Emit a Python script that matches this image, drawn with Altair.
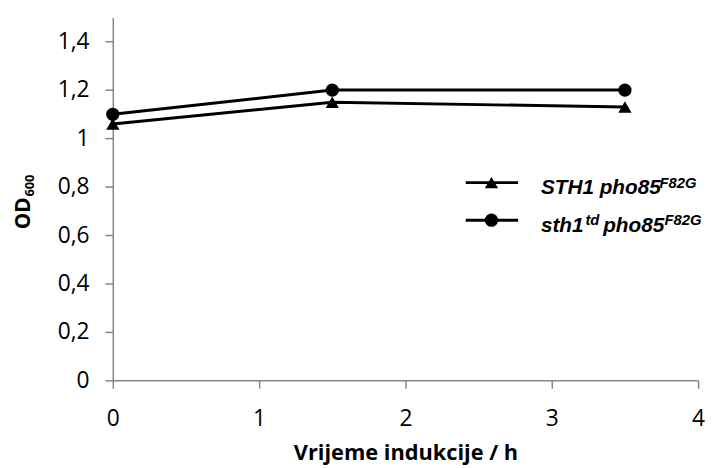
import altair as alt
import pandas as pd

time_h = [0, 1.5, 3.5]
sth1_wt = [1.06, 1.15, 1.13]
sth1_td = [1.10, 1.20, 1.20]
series_names = ["STH1 pho85F82G", "sth1td pho85F82G"]
y_ticks = [0, 0.2, 0.4, 0.6, 0.8, 1.0, 1.2, 1.4]
x_ticks = [0, 1, 2, 3, 4]

rows = []
for t, a, b in zip(time_h, sth1_wt, sth1_td):
    rows.append({"t": t, "od": a, "s": series_names[0]})
    rows.append({"t": t, "od": b, "s": series_names[1]})
df = pd.DataFrame(rows)

W, H = 592, 367
FONT = "Open Sans"
GRAY = "#868686"

x_enc = alt.X("t:Q", scale=alt.Scale(domain=[0, 4], nice=False),
              axis=alt.Axis(values=x_ticks, format="d", grid=False, title="Vrijeme indukcije / h",
                            domainColor=GRAY, tickColor=GRAY, tickSize=8, domainWidth=1.5,
                            tickWidth=1.5, labelFont=FONT, labelFontSize=23, labelColor="#000",
                            labelPadding=20, labelFlush=False, titleFont=FONT, titleFontSize=22,
                            titleFontWeight="bold", titleColor="#000", titlePadding=12))
y_enc = alt.Y("od:Q", scale=alt.Scale(domain=[0, 1.5], nice=False),
              axis=alt.Axis(values=y_ticks, grid=False, title=None,
                            labelExpr="datum.value == 0 ? '0' : datum.value == 1 ? '1' : replace(format(datum.value, '.1f'), '.', ',')",
                            domainColor=GRAY, tickColor=GRAY, tickSize=8, domainWidth=1.5,
                            tickWidth=1.5, labelFont=FONT, labelFontSize=23, labelColor="#000",
                            labelPadding=16, labelFlush=False))

shape_scale = alt.Scale(domain=series_names, range=["triangle-up", "circle"])

base = alt.Chart(df)
lines = base.mark_line(color="black", strokeWidth=3).encode(x=x_enc, y=y_enc, detail="s:N")
points = base.mark_point(filled=True, color="black", size=180, opacity=1).encode(
    x="t:Q", y="od:Q", shape=alt.Shape("s:N", scale=shape_scale, legend=None))

one = pd.DataFrame({"a": [0]})

# Y-axis title with subscript
yt1 = alt.Chart(one).mark_text(
    text="OD", font=FONT, fontSize=21, fontWeight="bold", angle=270, align="center",
    baseline="middle", color="#000").encode(x=alt.value(-90), y=alt.value(198))
yt2 = alt.Chart(one).mark_text(
    text="600", font=FONT, fontSize=13, fontWeight="bold", angle=270, align="center",
    baseline="middle", color="#000").encode(x=alt.value(-84), y=alt.value(170))

# Custom legend
LX1, LX2, LM = 357, 410, 383
LY1, LY2 = 167, 205
leg = []
for ly, shp in [(LY1, "triangle-up"), (LY2, "circle")]:
    leg.append(alt.Chart(one).mark_rule(color="black", strokeWidth=3).encode(
        x=alt.value(LX1), x2=alt.value(LX2), y=alt.value(ly)))
    leg.append(alt.Chart(one).mark_point(
        filled=True, color="black", size=180, opacity=1, shape=shp).encode(
        x=alt.value(LM), y=alt.value(ly)))

LFONT = "Liberation Sans"
def txt(s, x, y, size):
    return alt.Chart(one).mark_text(
        text=s, font=LFONT, fontSize=size, fontWeight="bold", fontStyle="italic",
        align="left", baseline="alphabetic", color="#000").encode(x=alt.value(x), y=alt.value(y))

leg += [
    txt("STH1 pho85", 433, 179, 21),
    txt("F82G", 553, 172, 15),
    txt("sth1", 433, 217, 21),
    txt("td", 478, 210, 15),
    txt("pho85", 496, 217, 21),
    txt("F82G", 558, 210, 15),
]

chart = alt.layer(lines, points, yt1, yt2, *leg).properties(
    width=W, height=H,
    autosize=alt.AutoSizeParams(type="none"),
    padding={"left": 106, "top": 7, "right": 8, "bottom": 84},
).configure_view(stroke=None)

chart.save("out.html", embed_options={"renderer": "svg", "actions": False})
